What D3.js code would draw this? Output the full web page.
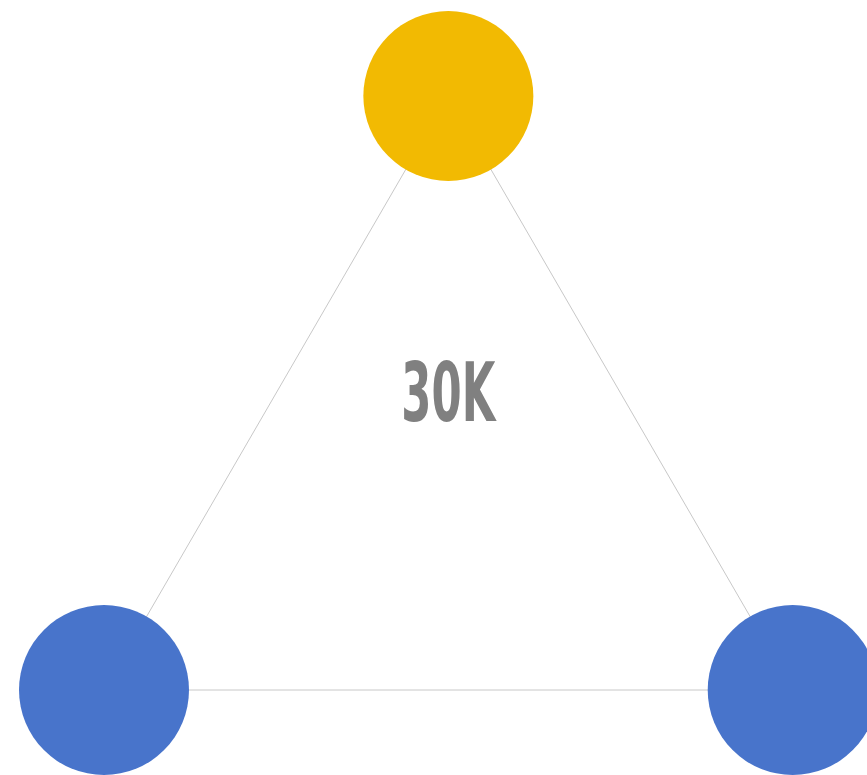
<!DOCTYPE html>
<html><head><meta charset="utf-8">
<script src="https://cdn.jsdelivr.net/npm/d3@7"></script>
<style>html,body{margin:0;padding:0;background:#fff;overflow:hidden}</style>
</head><body>
<svg id="chart" width="867" height="775"></svg>
<script>
const nodeNames = ["Top", "Left", "Right"];
const nodeX = [1, 0, 2];
const nodeY = [1, 0, 0];
const nodeColors = ["#F2BA02", "#4874CB", "#4874CB"];
const links = [[0, 1], [0, 2], [1, 2]];
const centerLabel = "30K";

const svg = d3.select("#chart");
const x = d3.scaleLinear().domain([0, 2]).range([104, 792.7]);
const y = d3.scaleLinear().domain([0, 1]).range([690, 96]);
const r = 85;

svg.append("g").selectAll("line").data(links).join("line")
  .attr("x1", d => x(nodeX[d[0]])).attr("y1", d => y(nodeY[d[0]]))
  .attr("x2", d => x(nodeX[d[1]])).attr("y2", d => y(nodeY[d[1]]))
  .attr("stroke", "#c8c8c8").attr("stroke-width", 1);

svg.append("g").selectAll("circle").data(nodeNames).join("circle")
  .attr("cx", (d, i) => x(nodeX[i])).attr("cy", (d, i) => y(nodeY[i]))
  .attr("r", r).attr("fill", (d, i) => nodeColors[i]);

svg.append("text")
  .attr("x", x(1)).attr("y", 421)
  .attr("text-anchor", "middle")
  .attr("font-family", "'Liberation Sans Narrow', 'DejaVu Sans Condensed', sans-serif")
  .attr("font-weight", "bold")
  .attr("font-size", 82)
  .attr("textLength", 94).attr("lengthAdjust", "spacingAndGlyphs")
  .attr("fill", "#808080")
  .text(centerLabel);
</script>
</body></html>
